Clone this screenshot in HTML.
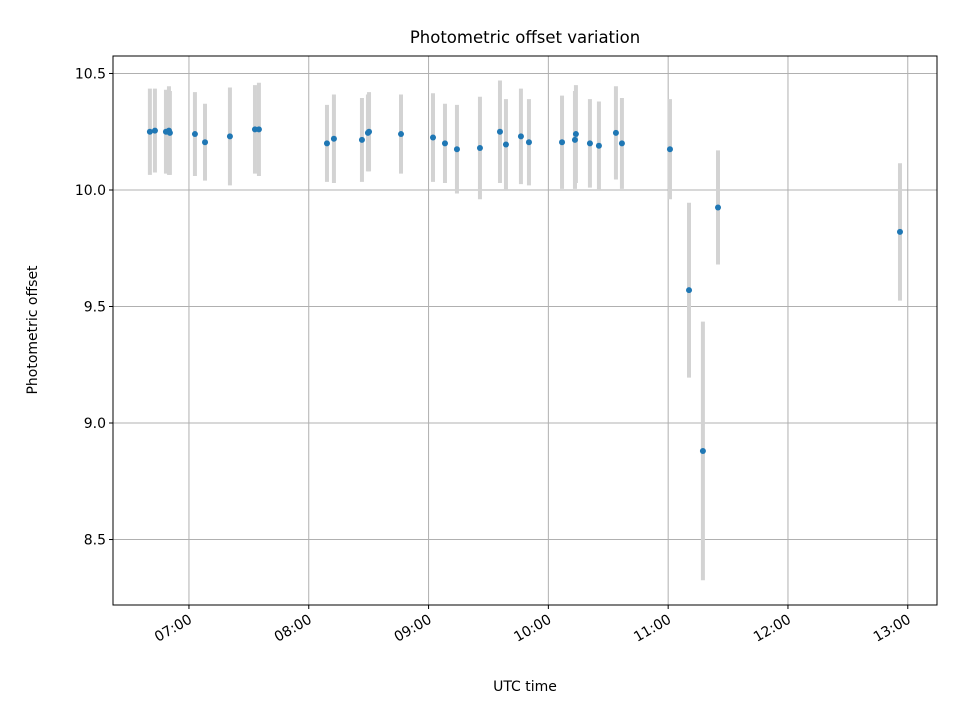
<!DOCTYPE html>
<html><head><meta charset="utf-8"><style>
body{margin:0;background:#fff}
svg text{font-family:"DejaVu Sans","Liberation Sans",sans-serif;fill:#000}
</style></head><body>
<svg id="chart" width="960" height="720" xmlns="http://www.w3.org/2000/svg">
<rect width="960" height="720" fill="#fff"/>
<text x="525" y="43" font-size="16.5" text-anchor="middle">Photometric offset variation</text>
<text x="525" y="691" font-size="14" text-anchor="middle">UTC time</text>
<text x="37" y="330" font-size="14" text-anchor="middle" transform="rotate(-90 37 330)">Photometric offset</text>
<g id="grid"></g>
<g id="errs"></g>
<g id="pts"></g>
<g id="axes"></g>
<rect x="113" y="56" width="824" height="549" fill="none" stroke="#000" stroke-width="1"/>
</svg>
<script>
const timesH = [6.674,6.716,6.808,6.833,6.841,7.050,7.134,7.342,7.551,7.584,8.152,8.210,8.444,8.494,8.503,8.770,9.037,9.137,9.237,9.429,9.596,9.646,9.771,9.838,10.114,10.222,10.230,10.347,10.422,10.564,10.614,11.015,11.174,11.290,11.416,12.935];
const offsets = [10.25,10.255,10.25,10.255,10.245,10.24,10.205,10.23,10.26,10.26,10.20,10.22,10.215,10.245,10.25,10.24,10.225,10.20,10.175,10.18,10.25,10.195,10.23,10.205,10.205,10.215,10.24,10.20,10.19,10.245,10.20,10.175,9.57,8.88,9.925,9.82];
const errors = [0.185,0.18,0.18,0.19,0.18,0.18,0.165,0.21,0.19,0.2,0.165,0.19,0.18,0.165,0.17,0.17,0.19,0.17,0.19,0.22,0.22,0.195,0.205,0.185,0.2,0.21,0.21,0.19,0.19,0.2,0.195,0.215,0.375,0.555,0.245,0.295];
const yTicks = [8.5,9.0,9.5,10.0,10.5];
const xTicks = [7,8,9,10,11,12,13];
const xTickLabels = ["07:00","08:00","09:00","10:00","11:00","12:00","13:00"];
const L=113,R=937,T=56,B=605, X0=6.366,X1=13.244, Y0=8.219,Y1=10.575;
const sx=h=>L+(h-X0)/(X1-X0)*(R-L);
const sy=v=>B-(v-Y0)/(Y1-Y0)*(B-T);
const NS="http://www.w3.org/2000/svg";
function mk(tag,attrs,parent){const e=document.createElementNS(NS,tag);for(const k in attrs)e.setAttribute(k,attrs[k]);parent.appendChild(e);return e;}
const grid=document.getElementById('grid'),axes=document.getElementById('axes'),errs=document.getElementById('errs'),pts=document.getElementById('pts');
yTicks.forEach(v=>{const y=sy(v);
 const g=mk('line',{x1:L,x2:R,y1:y,y2:y,stroke:'#b0b0b0','stroke-width':1},grid);
 
 const t=mk('line',{x1:L-4,x2:L,y1:y,y2:y,stroke:'#000'},axes);
 
 const tx=mk('text',{x:L-7,y:y+5,'font-size':14,'text-anchor':'end'},axes);tx.textContent=v.toFixed(1);
 
});
xTicks.forEach((h,i)=>{const x=sx(h);
 const g=mk('line',{x1:x,x2:x,y1:T,y2:B,stroke:'#b0b0b0','stroke-width':1},grid);
 
 const t=mk('line',{x1:x,x2:x,y1:B,y2:B+4,stroke:'#000'},axes);
 
 const tx=mk('text',{x:x+4,y:B+17,'font-size':14,'text-anchor':'end',transform:`rotate(-30 ${x+4} ${B+17})`},axes);tx.textContent=xTickLabels[i];
 
});
timesH.forEach((h,i)=>{const x=sx(h);
 const e=mk('line',{x1:x,x2:x,y1:sy(offsets[i]+errors[i]),y2:sy(offsets[i]-errors[i]),stroke:'#d3d3d3','stroke-width':4},errs);
 
 const c=mk('circle',{cx:x,cy:sy(offsets[i]),r:3,fill:'#1f77b4'},pts);
 
});
</script>
</body></html>
